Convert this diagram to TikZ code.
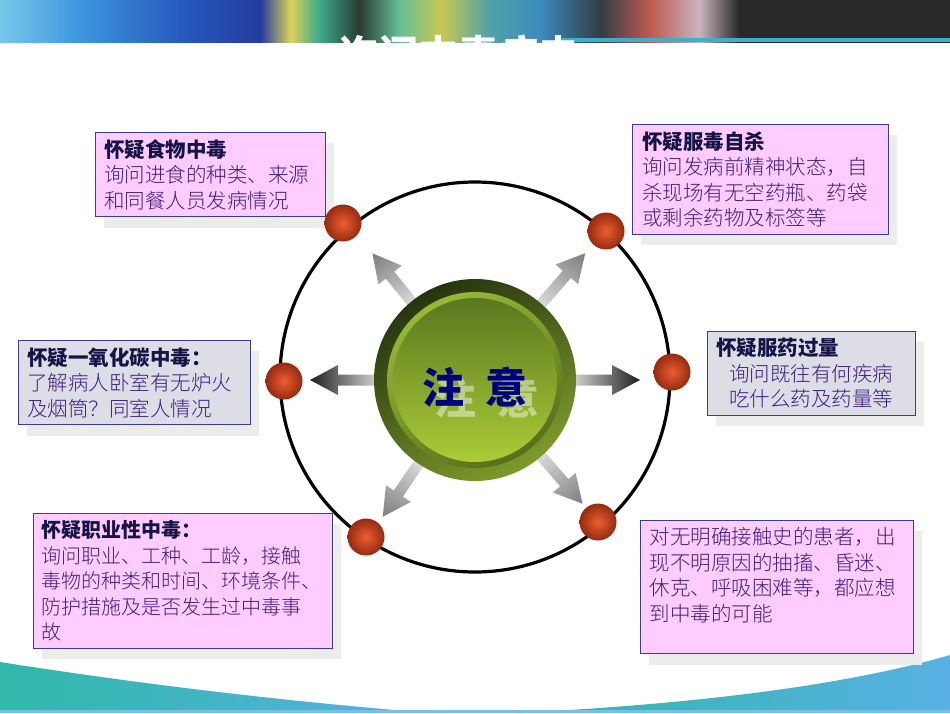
\documentclass[tikz,border=0pt]{standalone}
\usepackage{fontspec}
\usepackage{xcolor}
\usetikzlibrary{shadows}
\IfFontExistsTF{Noto Sans CJK SC Light}
  {\newfontfamily\cjk{Noto Sans CJK SC Light}[BoldFont={Noto Sans CJK SC Bold}]}
  {\newfontfamily\cjk{Noto Sans CJK SC}}
\newfontfamily\cjkhead{Noto Sans CJK SC}
\definecolor{notetext}{RGB}{60,30,130}
\definecolor{notetitle}{RGB}{20,20,70}
\definecolor{notepink}{RGB}{255,204,255}
\definecolor{notegray}{RGB}{221,221,230}
\definecolor{noteline}{RGB}{60,60,150}
\definecolor{shadowgray}{RGB}{236,236,236}
\definecolor{zhuyiblue}{RGB}{0,0,128}
\definecolor{dotlight}{RGB}{235,95,50}
\definecolor{dotdark}{RGB}{150,42,15}
\definecolor{arrlite}{RGB}{232,232,232}
\definecolor{arrdark}{RGB}{30,30,30}
\definecolor{arrmid}{RGB}{125,125,125}
\definecolor{waveteal}{RGB}{48,184,168}
\definecolor{waveblue}{RGB}{88,176,228}
\definecolor{bannerline}{RGB}{60,175,205}
% colours of the photo strip on top
\definecolor{banA}{RGB}{120,200,235}
\definecolor{banB}{RGB}{60,150,220}
\definecolor{banC}{RGB}{40,90,190}
\definecolor{banD}{RGB}{35,60,160}
\definecolor{banE}{RGB}{220,210,90}
\definecolor{banF}{RGB}{60,170,140}
\definecolor{banG}{RGB}{40,60,50}
\definecolor{banH}{RGB}{100,190,150}
\definecolor{banI}{RGB}{200,200,80}
\definecolor{banJ}{RGB}{80,160,170}
\definecolor{banK}{RGB}{60,140,190}
\definecolor{banL}{RGB}{50,60,70}
\definecolor{banM}{RGB}{190,90,80}
\definecolor{banN}{RGB}{200,180,190}
\definecolor{banO}{RGB}{40,40,40}
\pgfdeclarehorizontalshading{banner}{100bp}{color(0bp)=(banA); color(25bp)=(banA);
  color(29.2bp)=(banB); color(34.5bp)=(banC); color(38.7bp)=(banD); color(40.3bp)=(banE);
  color(41.8bp)=(banF); color(43.9bp)=(banG); color(46bp)=(banH); color(48.2bp)=(banI);
  color(50.8bp)=(banJ); color(53.4bp)=(banK); color(56.6bp)=(banL); color(59.2bp)=(banM);
  color(61.8bp)=(banN); color(63.9bp)=(banO); color(75bp)=(banO); color(100bp)=(banO)}
\newcommand\notefont{\cjk\fontsize{20.5}{25.5}\selectfont}
\newcommand\notefontsmall{\cjk\fontsize{20}{25.5}\selectfont}
\newcommand\boxhead[1]{{\cjkhead\bfseries\color{notetitle}#1}}

\begin{document}
\begin{tikzpicture}[x=1pt, y=1pt,
    notebox/.style={draw=noteline, line width=0.8pt, anchor=north west, align=left,
      inner xsep=9pt, inner ysep=7pt, font=\notefont, text=notetext,
      drop shadow={shadow xshift=9pt, shadow yshift=-11pt, fill=shadowgray, opacity=1}},
    pinkbox/.style={notebox, fill=notepink},
    graybox/.style={notebox, fill=notegray},
    reddot/.style={circle, minimum size=37pt, inner sep=0pt, shading=radial,
      inner color=dotlight, outer color=dotdark}]
  \useasboundingbox (0,0) rectangle (950,-713);
  \fill[white] (0,0) rectangle (950,-713);

  % Photo strip and title (cut off)
  \shade[shading=banner] (0,0) rectangle (950,-42);
  \fill[bannerline] (560,-38) rectangle (950,-42);
  \begin{scope}
    \clip (0,0) rectangle (950,-42);
    \node[font=\cjkhead\bfseries\fontsize{40}{40}\selectfont, text=white] (title) at (458,-54) {询问中毒病史};
  \end{scope}

  % Waves at the bottom
  \shade[left color=waveteal, right color=waveblue] (0,-662) .. controls (140,-684) and (290,-702) .. (432,-713) -- (0,-713) -- cycle;
  \shade[left color=waveteal, right color=waveblue] (515,-713) .. controls (660,-706) and (830,-690) .. (950,-655) -- (950,-713) -- cycle;
  \fill[waveblue!80] (0,-710) rectangle (950,-713);

  % Notes round the circle
  \node[pinkbox, text width=212pt] (food) at (95,-132)
    {\boxhead{怀疑食物中毒}\\询问进食的种类、来源\\和同餐人员发病情况};
  \node[pinkbox, text width=236pt, inner xsep=10pt] (suicide) at (632,-124)
    {\boxhead{怀疑服毒自杀}\\询问发病前精神状态，自\\杀现场有无空药瓶、药袋\\或剩余药物及标签等};
  \node[graybox, text width=214pt] (carbon) at (18,-340)
    {\boxhead{怀疑一氧化碳中毒：}\\了解病人卧室有无炉火\\及烟筒？同室人情况};
  \node[graybox, text width=190pt] (overdose) at (707,-331)
    {\boxhead{怀疑服药过量}\\\hspace*{13pt}询问既往有何疾病\\\hspace*{13pt}吃什么药及药量等};
  \node[pinkbox, text width=282pt, inner xsep=8.5pt, font=\notefontsmall] (work) at (33,-513)
    {\boxhead{怀疑职业性中毒：}\\询问职业、工种、工龄，接触\\毒物的种类和时间、环境条件、\\防护措施及是否发生过中毒事\\故};
  \node[pinkbox, text width=254pt, inner xsep=9.5pt] (unknown) at (640,-520)
    {对无明确接触史的患者，出\\现不明原因的抽搐、昏迷、\\休克、呼吸困难等，都应想\\到中毒的可能\\\mbox{}};

  % Big ring
  \node[draw, circle, line width=3.2pt, minimum size=390pt, inner sep=0pt] (ring) at (475,-377) {};

  % Arrows out of the middle
  \coordinate (mid) at (475,-380);
  \foreach \ang/\tip/\lite/\dark in {0/165/arrlite/arrdark, 180/165/arrlite/arrdark,
      49/168/arrlite/arrmid, 129/163/arrlite/arrmid, 236/165/arrlite/arrmid, 311/164/arrlite/arrmid}{
    \begin{scope}[transform canvas={rotate around={\ang:(mid)}}, shift={(mid)}]
      \shade[left color=\lite, right color=\dark] (90,5.5) -- (\tip-28,5.5) -- (\tip-28,15)
        -- (\tip,0) -- (\tip-28,-15) -- (\tip-28,-5.5) -- (90,-5.5) -- cycle;
    \end{scope}}

  % Green button
  \shade[top color={rgb,255:red,38;green,52;blue,14}, bottom color={rgb,255:red,125;green,155;blue,42},
    shading angle=30] (mid) circle (101pt);
  \shade[top color={rgb,255:red,150;green,185;blue,55}, bottom color={rgb,255:red,88;green,112;blue,28},
    shading angle=30] (mid) circle (88pt);
  \shade[top color={rgb,255:red,92;green,118;blue,30}, bottom color={rgb,255:red,170;green,205;blue,55}]
    (mid) circle (82pt);
  \node[font=\cjkhead\bfseries\fontsize{42}{42}\selectfont, text=white, text opacity=0.45] (zhuyishadow)
    at (487,-398) {注\hspace{22pt}意};
  \node[font=\cjkhead\bfseries\fontsize{42}{42}\selectfont, text=zhuyiblue] (zhuyi)
    at (475,-387) {注\hspace{22pt}意};

  % Red dots on the ring
  \foreach \nm/\px/\py in {TL/343/223, TR/606/231, L/284/381, R/672/372, BL/366/537, BR/598/522}
    \node[reddot] (dot\nm) at (\px,-\py) {};
\end{tikzpicture}
\end{document}
